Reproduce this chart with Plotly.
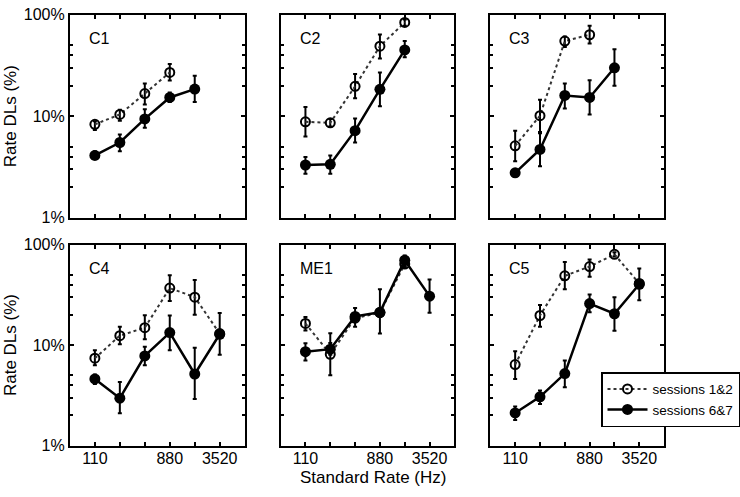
import plotly.graph_objects as go
import math

W, H = 740, 497

rates = [110, 220, 440, 880, 1760, 3520]
x_ticktext = ["110", "", "", "880", "", "3520"]
y_tickvals = [1, 10, 100]
y_ticktext = ["1%", "10%", "100%"]
y_minor = [2, 3, 4, 5, 20, 30, 40, 50]

panel_names = ["C1", "C2", "C3", "C4", "ME1", "C5"]

# sessions 1&2 (open) : mean, upper, lower (%)
c1_s12 = [8.3, 10.4, 16.7, 27, None, None]
c1_s12_hi = [8.9, 11.6, 21, 32.6, None, None]
c1_s12_lo = [7.3, 9.0, 13, 22.5, None, None]
c2_s12 = [8.8, 8.6, 19.7, 49, 84, None]
c2_s12_hi = [12.3, 9.4, 26, 64, 90, None]
c2_s12_lo = [6.3, 7.9, 15, 37, 78, None]
c3_s12 = [5.1, 10.1, 55, 63.5, None, None]
c3_s12_hi = [7.2, 14.5, 61, 78, None, None]
c3_s12_lo = [3.6, 6.8, 48, 52, None, None]
c4_s12 = [7.4, 12.4, 14.9, 36.9, 30, 13]
c4_s12_hi = [8.9, 15.2, 19.8, 49.6, 44.4, 13]
c4_s12_lo = [6.3, 10.2, 11.4, 27.5, 20, 13]
me1_s12 = [16.4, 8.1, 18.5, 21, 64, None]
me1_s12_hi = [19, 13.1, 20, 23, 68, None]
me1_s12_lo = [14, 5.0, 17, 19, 60, None]
c5_s12 = [6.4, 19.7, 48.9, 60.5, 80, 41]
c5_s12_hi = [8.7, 25, 67, 71, 84, 41]
c5_s12_lo = [4.6, 15.2, 36, 48, 76, 41]

# sessions 6&7 (filled)
c1_s67 = [4.1, 5.5, 9.4, 15.3, 18.5, None]
c1_s67_hi = [4.5, 6.6, 11.7, 17.1, 25, None]
c1_s67_lo = [3.8, 4.5, 7.7, 13.8, 13.8, None]
c2_s67 = [3.3, 3.35, 7.2, 18.4, 45, None]
c2_s67_hi = [3.95, 4.1, 9.5, 27, 55, None]
c2_s67_lo = [2.7, 2.7, 5.5, 12.5, 38, None]
c3_s67 = [2.76, 4.7, 16, 15.3, 30, None]
c3_s67_hi = [2.9, 7.0, 21, 22.6, 45.6, None]
c3_s67_lo = [2.6, 3.2, 11.9, 10.4, 20, None]
c4_s67 = [4.6, 2.96, 7.8, 13.3, 5.15, 12.8]
c4_s67_hi = [5.1, 4.3, 9.6, 19.7, 9.4, 20.8]
c4_s67_lo = [4.1, 2.1, 6.3, 8.9, 2.9, 8.0]
me1_s67 = [8.6, 9.1, 19.3, 21.2, 70, 30.7]
me1_s67_hi = [10.4, 10.5, 23.4, 36, 78, 45]
me1_s67_lo = [7.0, 8.0, 15.2, 13, 62, 21]
c5_s67 = [2.11, 3.05, 5.2, 25.9, 20.5, 40.3]
c5_s67_hi = [2.44, 3.53, 7.0, 31.8, 30, 58]
c5_s67_lo = [1.79, 2.59, 3.8, 21.2, 13.9, 28]

s12_all = [(c1_s12, c1_s12_hi, c1_s12_lo), (c2_s12, c2_s12_hi, c2_s12_lo),
           (c3_s12, c3_s12_hi, c3_s12_lo), (c4_s12, c4_s12_hi, c4_s12_lo),
           (me1_s12, me1_s12_hi, me1_s12_lo), (c5_s12, c5_s12_hi, c5_s12_lo)]
s67_all = [(c1_s67, c1_s67_hi, c1_s67_lo), (c2_s67, c2_s67_hi, c2_s67_lo),
           (c3_s67, c3_s67_hi, c3_s67_lo), (c4_s67, c4_s67_hi, c4_s67_lo),
           (me1_s67, me1_s67_hi, me1_s67_lo), (c5_s67, c5_s67_hi, c5_s67_lo)]

FONT = "Liberation Sans"

# panel pixel boxes (left, right), (top, bottom)
cols_px = [(70, 245), (281, 455), (491, 665)]
rows_px = [(7, 217), (245, 453)]


def diff(a, b):
    return [None if (p is None or q is None) else p - q for p, q in zip(a, b)]


fig = go.Figure()
layout = {}
for i, name in enumerate(panel_names):
    r, c = divmod(i, 3)
    n = i + 1
    xa = "x" if n == 1 else f"x{n}"
    ya = "y" if n == 1 else f"y{n}"
    xl, xr = cols_px[c]
    yt, yb = rows_px[r]
    layout[f"xaxis{n if n > 1 else ''}"] = dict(
        domain=[xl / W, xr / W], anchor=ya, type="log",
        range=[math.log10(55), math.log10(7040)],
        tickmode="array", tickvals=rates,
        ticktext=x_ticktext if r == 1 else [""] * 6,
        ticks="inside", ticklen=4, tickwidth=1.5, tickcolor="black",
        ticklabelstandoff=-3,
        showline=True, linewidth=2, linecolor="black", mirror="allticks",
        showgrid=False, zeroline=False,
        tickfont=dict(family=FONT, size=16, color="black"),
    )
    layout[f"yaxis{n if n > 1 else ''}"] = dict(
        domain=[1 - yb / H, 1 - yt / H], anchor=xa, type="log",
        range=[0, 2],
        tickmode="array", tickvals=y_tickvals,
        ticktext=y_ticktext if c == 0 else [""] * 3,
        ticks="inside", ticklen=4, tickwidth=1.5, tickcolor="black",
        minor=dict(tickmode="array", tickvals=y_minor, ticks="inside",
                   ticklen=3, tickwidth=1.5, tickcolor="black", showgrid=False),
        showline=True, linewidth=2, linecolor="black", mirror="allticks",
        showgrid=False, zeroline=False,
        tickfont=dict(family=FONT, size=16, color="black"),
    )
    m12, hi12, lo12 = s12_all[i]
    m67, hi67, lo67 = s67_all[i]
    fig.add_trace(go.Scatter(
        x=rates, y=m12, xaxis=xa, yaxis=ya, mode="lines+markers",
        name="sessions 1&2", showlegend=(i == 0), legendgroup="s12",
        connectgaps=False,
        line=dict(color="#333333", width=2, dash="dot"),
        marker=dict(symbol="circle-open", size=9, color="black",
                    line=dict(width=2, color="black")),
        error_y=dict(type="data", symmetric=False, array=diff(hi12, m12),
                     arrayminus=diff(m12, lo12), color="black",
                     thickness=2, width=2),
    ))
    fig.add_trace(go.Scatter(
        x=rates, y=m67, xaxis=xa, yaxis=ya, mode="lines+markers",
        name="sessions 6&7", showlegend=(i == 0), legendgroup="s67",
        connectgaps=False,
        line=dict(color="black", width=2.5),
        marker=dict(symbol="circle", size=11, color="black"),
        error_y=dict(type="data", symmetric=False, array=diff(hi67, m67),
                     arrayminus=diff(m67, lo67), color="black",
                     thickness=2, width=2),
    ))

annotations = []
for i, name in enumerate(panel_names):
    r, c = divmod(i, 3)
    xl, xr = cols_px[c]
    yt, yb = rows_px[r]
    annotations.append(dict(
        text=name, xref="paper", yref="paper",
        x=(xl + 17) / W, y=1 - (yt + 25) / H, xanchor="left", yanchor="middle",
        showarrow=False, font=dict(family=FONT, size=16, color="black")))

for (yt, yb) in rows_px:
    annotations.append(dict(
        text="Rate DLs (%)", xref="paper", yref="paper",
        x=10 / W, y=1 - ((yt + yb) / 2) / H, xanchor="center", yanchor="middle",
        textangle=-90, showarrow=False,
        font=dict(family=FONT, size=17, color="black")))

annotations.append(dict(
    text="Standard Rate (Hz)", xref="paper", yref="paper",
    x=374 / W, y=1 - 486 / H, xanchor="center", yanchor="middle",
    showarrow=False, font=dict(family=FONT, size=17, color="black")))

fig.update_layout(
    **layout,
    annotations=annotations,
    width=W, height=H,
    margin=dict(l=0, r=0, t=0, b=0),
    paper_bgcolor="white", plot_bgcolor="white",
    showlegend=True,
    legend=dict(
        x=602 / W, y=1 - 377 / H, xanchor="left", yanchor="top",
        bgcolor="white", bordercolor="black", borderwidth=1.5,
        font=dict(family=FONT, size=13.5, color="black"),
        itemwidth=40, tracegroupgap=0,
    ),
)

fig.write_html("out.html", config={"displayModeBar": False},
               post_script="document.body.style.margin='0';")
